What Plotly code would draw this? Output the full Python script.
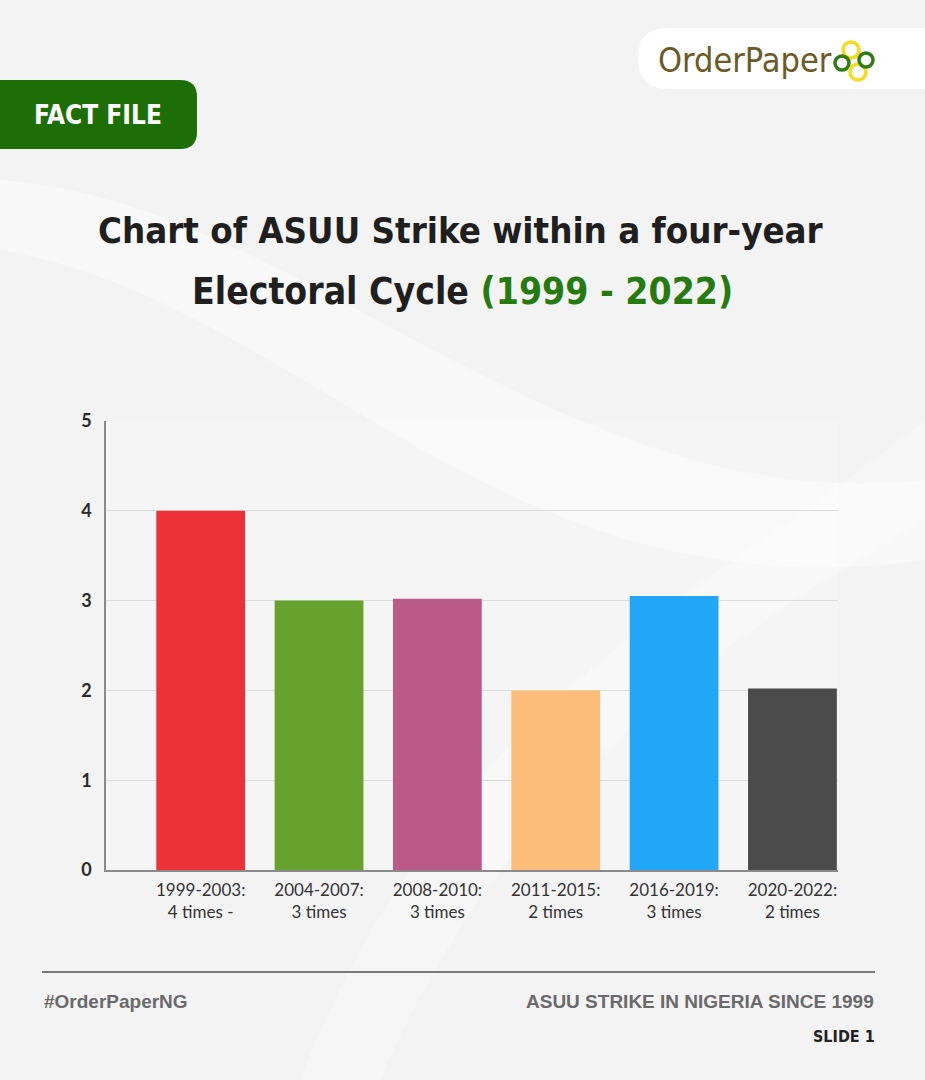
import plotly.graph_objects as go

categories = ["1999-2003:<br>4 times -", "2004-2007:<br>3 times", "2008-2010:<br>3 times",
              "2011-2015:<br>2 times", "2016-2019:<br>3 times", "2020-2022:<br>2 times"]
strikes = [4.0, 3.0, 3.02, 2.0, 3.05, 2.02]
bar_colors = ["#ec3237", "#67a22f", "#bb5a87", "#fcbd7a", "#22a6f7", "#4b4b4b"]
y_ticks = [0, 1, 2, 3, 4, 5]
y_tick_text = ["0", "1", "2", "3", "4", "5"]

W, H = 925, 1080
L, R, T, B = 106, 838, 421, 870
COND = "DejaVu Sans Condensed, sans-serif"

fig = go.Figure()
fig.add_trace(go.Bar(
    x=list(range(len(categories))), y=strikes, marker=dict(color=bar_colors, line=dict(width=0)),
    width=0.75, hoverinfo="skip",
))

def px_x(v):
    return (v - L) / (R - L)

def px_y(v):
    return (B - v) / (B - T)

shapes = []
annotations = []

# background swooshes
shapes.append(dict(type="path", xref="paper", yref="paper", layer="below",
                   path=f"M {px_x(0)} {px_y(250)} C {px_x(300)} {px_y(300)}, {px_x(500)} {px_y(620)}, {px_x(925)} {px_y(560)} L {px_x(925)} {px_y(480)} C {px_x(560)} {px_y(520)}, {px_x(300)} {px_y(200)}, {px_x(0)} {px_y(180)} Z",
                   fillcolor="rgba(255,255,255,0.4)", line=dict(width=0)))
shapes.append(dict(type="path", xref="paper", yref="paper", layer="below",
                   path=f"M {px_x(300)} {px_y(1080)} C {px_x(450)} {px_y(700)}, {px_x(700)} {px_y(600)}, {px_x(925)} {px_y(420)} L {px_x(925)} {px_y(520)} C {px_x(700)} {px_y(650)}, {px_x(500)} {px_y(800)}, {px_x(380)} {px_y(1080)} Z",
                   fillcolor="rgba(255,255,255,0.3)", line=dict(width=0)))

# FACT FILE banner
shapes.append(dict(type="path", xref="paper", yref="paper",
                   path=f"M {px_x(-20)} {px_y(80)} L {px_x(180)} {px_y(80)} Q {px_x(197)} {px_y(80)} {px_x(197)} {px_y(97)} L {px_x(197)} {px_y(132)} Q {px_x(197)} {px_y(149)} {px_x(180)} {px_y(149)} L {px_x(-20)} {px_y(149)} Z",
                   fillcolor="#1e6e08", line=dict(width=0)))
annotations.append(dict(x=px_x(98), y=px_y(115), xref="paper", yref="paper", text="FACT FILE",
                        showarrow=False, xanchor="center", yanchor="middle",
                        font=dict(family=COND, size=26, color="white", weight="bold")))

# Logo pill
shapes.append(dict(type="path", xref="paper", yref="paper",
                   path=f"M {px_x(668)} {px_y(28)} L {px_x(940)} {px_y(28)} L {px_x(940)} {px_y(89)} L {px_x(668)} {px_y(89)} Q {px_x(638)} {px_y(89)} {px_x(638)} {px_y(58)} Q {px_x(638)} {px_y(28)} {px_x(668)} {px_y(28)} Z",
                   fillcolor="white", line=dict(width=0)))
annotations.append(dict(x=px_x(656), y=px_y(60), xref="paper", yref="paper", text="OrderPaper",
                        showarrow=False, xanchor="left", yanchor="middle",
                        font=dict(family=COND, size=34, color="#6b5a26")))
# logo rings
for cx, cy, r, col in [(851, 50, 8, "#f2dc1d"), (858, 72, 8, "#f2dc1d"), (842, 63, 7, "#2d7d12"), (866, 60, 7, "#2d7d12")]:
    shapes.append(dict(type="circle", xref="paper", yref="paper",
                       x0=px_x(cx - r), x1=px_x(cx + r), y0=px_y(cy + r), y1=px_y(cy - r),
                       line=dict(color=col, width=3.5), fillcolor="rgba(0,0,0,0)"))

# Title
annotations.append(dict(x=px_x(461), y=px_y(231), xref="paper", yref="paper",
                        text="Chart of ASUU Strike within a four-year",
                        showarrow=False, xanchor="center", yanchor="middle",
                        font=dict(family=COND, size=36.3, color="#1f1f1f", weight="bold")))
annotations.append(dict(x=px_x(462), y=px_y(291), xref="paper", yref="paper",
                        text="Electoral Cycle <span style='color:#257a10'>(1999 - 2022)</span>",
                        showarrow=False, xanchor="center", yanchor="middle",
                        font=dict(family=COND, size=37, color="#1f1f1f", weight="bold")))

# Footer
shapes.append(dict(type="line", xref="paper", yref="paper", x0=px_x(42), x1=px_x(875), y0=px_y(972), y1=px_y(972),
                   line=dict(color="#7a7a7a", width=2)))
annotations.append(dict(x=px_x(42), y=px_y(1001), xref="paper", yref="paper", text="#OrderPaperNG",
                        showarrow=False, xanchor="left", yanchor="middle",
                        font=dict(family="Liberation Sans, Arial, sans-serif", size=19, color="#6a6a6a", weight="bold")))
annotations.append(dict(x=px_x(876), y=px_y(1001), xref="paper", yref="paper", text="ASUU STRIKE IN NIGERIA SINCE 1999",
                        showarrow=False, xanchor="right", yanchor="middle",
                        font=dict(family="Liberation Sans, Arial, sans-serif", size=19, color="#6a6a6a", weight="bold")))
annotations.append(dict(x=px_x(877), y=px_y(1036), xref="paper", yref="paper", text="SLIDE 1",
                        showarrow=False, xanchor="right", yanchor="middle",
                        font=dict(family=COND, size=16, color="#222222", weight="bold")))

fig.update_layout(
    width=W, height=H,
    margin=dict(l=L, r=W - R, t=T, b=H - B, autoexpand=False),
    paper_bgcolor="#f3f3f3", plot_bgcolor="rgba(255,255,255,0.2)",
    showlegend=False,
    shapes=shapes, annotations=annotations,
    xaxis=dict(range=[-0.8, 5.385], tickmode="array", tickvals=list(range(len(categories))),
               ticktext=categories, showgrid=False, zeroline=False,
               showline=True, linecolor="#8a8a8a", linewidth=1.5, ticks="",
               ticklabelstandoff=4,
               tickfont=dict(family="Lato, Open Sans, sans-serif", size=17, color="#333333")),
    yaxis=dict(range=[0, 5], tickmode="array", tickvals=y_ticks, ticktext=y_tick_text,
               showgrid=True, gridcolor="#dcdcdc", gridwidth=1, zeroline=False,
               showline=True, linecolor="#8a8a8a", linewidth=1.5, ticks="",
               ticklabelstandoff=9,
               tickfont=dict(family="Lato, Open Sans, sans-serif", size=18, color="#2a2a2a", weight="bold")),
)

fig.write_html("out.html")
